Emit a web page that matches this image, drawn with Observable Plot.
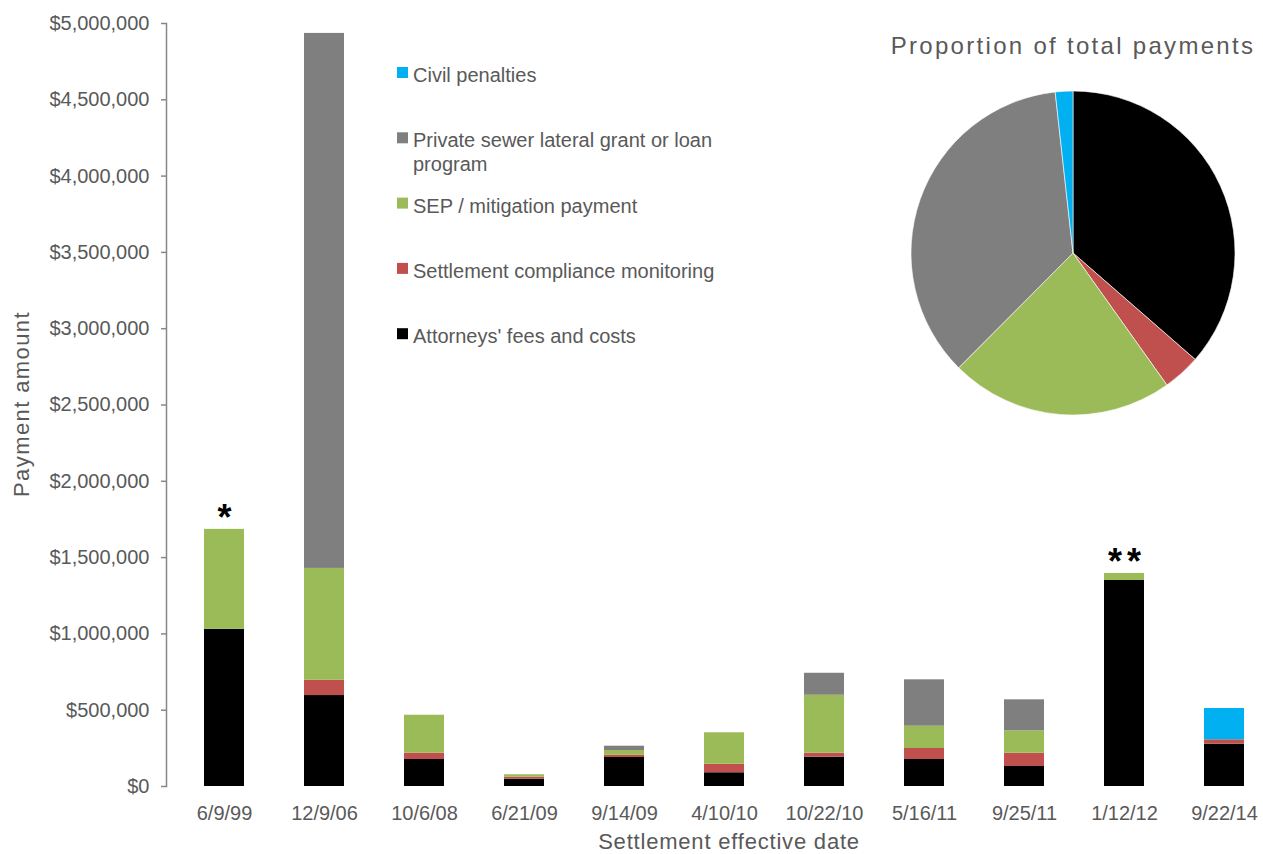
<!DOCTYPE html>
<html>
<head>
<meta charset="utf-8">
<script src="https://cdn.jsdelivr.net/npm/d3@7"></script>
<script src="https://cdn.jsdelivr.net/npm/@observablehq/plot@0.6"></script>
<style>
  html, body { margin: 0; padding: 0; background: #fff; }
  #chart svg { display: block; }
  .notes text { letter-spacing: 5px; }
</style>
</head>
<body>
<div id="chart"></div>
<script>
// ---- Data ----
const dates = ["6/9/99", "12/9/06", "10/6/08", "6/21/09", "9/14/09", "4/10/10", "10/22/10", "5/16/11", "9/25/11", "1/12/12", "9/22/14"];
const attorneys  = [1030000, 596000, 177000, 48000, 190000,  90000, 192000, 177000, 131000, 1350000, 277000];
const monitoring = [      0, 100000,  41000, 13000,  15000,  56000,  26000,  72000,  87000,       0,  29000];
const sep        = [ 655000, 733000, 249000, 16000,  31000, 206000, 380000, 146000, 147000,   46000,      0];
const lateral    = [      0,3506000,      0,     0,  28000,      0, 144000, 304000, 203000,       0,      0];
const penalties  = [      0,      0,      0,     0,      0,      0,      0,      0,      0,       0, 205000];

const seriesNames = [
  "Attorneys' fees and costs",
  "Settlement compliance monitoring",
  "SEP / mitigation payment",
  "Private sewer lateral grant or loan program",
  "Civil penalties"
];
const seriesValues = [attorneys, monitoring, sep, lateral, penalties];
const seriesColors = ["#000000", "#C0504D", "#9BBB59", "#7F7F7F", "#00B0F0"];

const yTicks = [0, 500000, 1000000, 1500000, 2000000, 2500000, 3000000, 3500000, 4000000, 4500000, 5000000];
const noteDates = ["6/9/99", "1/12/12"];
const noteMarks = ["*", "**"];

const xTitle = "Settlement effective date";
const yTitle = "Payment amount";
const pieTitle = "Proportion of total payments";

// ---- Derived tables ----
const table = [];
dates.forEach((d, i) => seriesNames.forEach((s, k) => table.push({date: d, series: s, value: seriesValues[k][i]})));
const totalsByDate = dates.map((d, i) => d3.sum(seriesValues, arr => arr[i]));
const notes = noteDates.map((d, i) => ({date: d, mark: noteMarks[i], total: totalsByDate[dates.indexOf(d)]}));
const seriesTotals = seriesNames.map((s, k) => ({series: s, total: d3.sum(seriesValues[k])}));

const FONT = "'Liberation Sans', Arial, Helvetica, sans-serif";
const TEXT = "#595959";
const AXIS = "#878787";

// Pie, legend and titles drawn into the same SVG
function overlay() {
  const g = d3.create("svg:g").attr("font-family", FONT).attr("fill", TEXT);

  // Pie chart
  const arcs = d3.pie().sort(null).value(d => d.total)(seriesTotals);
  const arc = d3.arc().innerRadius(0).outerRadius(162);
  g.append("g")
    .attr("transform", "translate(1073,253)")
    .selectAll("path").data(arcs).join("path")
    .attr("d", arc)
    .attr("fill", (d, i) => seriesColors[i])
    .attr("stroke", "#fff").attr("stroke-width", 0.6);

  g.append("text")
    .attr("x", 1073).attr("y", 54)
    .attr("text-anchor", "middle")
    .attr("font-size", 24).attr("letter-spacing", 2.3)
    .text(pieTitle);

  // Legend (reverse of stacking order)
  const legendOrder = [4, 3, 2, 1, 0];
  const legendLines = {3: ["Private sewer lateral grant or loan", "program"]};
  legendOrder.forEach((k, row) => {
    const base = 82 + row * 65.3;
    g.append("rect")
      .attr("x", 397).attr("y", base - 15).attr("width", 11).attr("height", 11)
      .attr("fill", seriesColors[k]);
    const lines = legendLines[k] || [seriesNames[k]];
    const t = g.append("text").attr("x", 413).attr("y", base)
      .attr("font-size", 20).attr("text-anchor", "start");
    lines.forEach((ln, j) => t.append("tspan").attr("x", 413).attr("dy", j === 0 ? 0 : 23.5).text(ln));
  });

  // Axis titles
  g.append("text")
    .attr("x", 729).attr("y", 849)
    .attr("text-anchor", "middle")
    .attr("font-size", 22).attr("letter-spacing", 0.8)
    .text(xTitle);
  g.append("text")
    .attr("transform", "translate(29,404) rotate(-90)")
    .attr("text-anchor", "middle")
    .attr("font-size", 22).attr("letter-spacing", 1.4)
    .text(yTitle);

  return g.node();
}

const chart = Plot.plot({
  width: 1263,
  height: 854,
  marginTop: 23,
  marginBottom: 68,
  marginLeft: 166,
  marginRight: 0,
  style: {fontFamily: FONT, fontSize: "20px", background: "#fff"},
  x: {type: "band", domain: dates, paddingInner: 0.604, paddingOuter: 0.238, align: 0.667},
  y: {domain: [0, 5000000]},
  color: {domain: seriesNames, range: seriesColors},
  marks: [
    Plot.barY(table, {x: "date", y: "value", fill: "series"}),
    Plot.frame({anchor: "left", stroke: AXIS, strokeWidth: 1.5}),
    Plot.axisY({ticks: yTicks, tickFormat: d3.format("$,"), tickSize: 5, tickPadding: 12,
                stroke: AXIS, strokeWidth: 1.5, fill: TEXT, fontSize: 20, label: null}),
    Plot.axisX({tickSize: 0, tickPadding: 19, fill: TEXT, fontSize: 20, label: null}),
    Plot.text(notes, {x: "date", y: "total", text: "mark", lineAnchor: "bottom", dy: 1, dx: 2.5,
                      fontSize: 36, fontWeight: "bold", fill: "#000", className: "notes"}),
    overlay
  ]
});

document.getElementById("chart").appendChild(chart);
</script>
</body>
</html>
